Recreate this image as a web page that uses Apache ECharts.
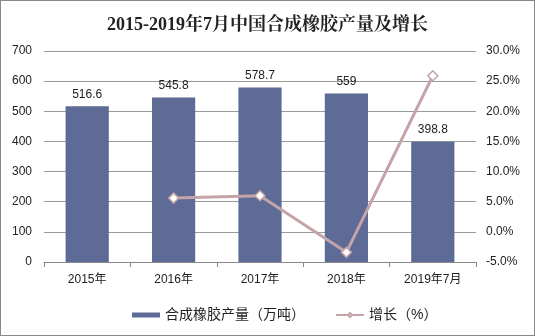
<!DOCTYPE html>
<html><head><meta charset="utf-8">
<script src="https://cdn.jsdelivr.net/npm/echarts@6/dist/echarts.min.js"></script>
<style>html,body{margin:0;padding:0;background:#fff}#c{width:535px;height:336px;box-sizing:border-box;border:1px solid #888}</style>
</head><body><div id="c"></div>
<script>
var categories = ['2015年','2016年','2017年','2018年','2019年7月'];
var production = [516.6, 545.8, 578.7, 559, 398.8];
var growth = [null, 5.6, 6.0, -3.4, 25.9];
var leftTicks = [0,100,200,300,400,500,600,700];
var rightTicks = [-5,0,5,10,15,20,25,30];

var chart = echarts.init(document.getElementById('c'));
var font = 'Arial, "Liberation Sans", "Noto Sans CJK SC", sans-serif';
chart.setOption({
  animation: false,
  title: {text: '2015-2019年7月中国合成橡胶产量及增长', left: 'center', top: 10,
    textStyle: {fontFamily: '"Liberation Serif", "Noto Serif CJK SC", "Noto Sans CJK SC", serif', fontWeight: 'bold', fontSize: 18, color: '#222'}},
  legend: {bottom: 8, left: 126, itemGap: 30, itemWidth: 28, itemHeight: 5,
    textStyle: {fontFamily: font, fontSize: 14, color: '#222'},
    data: [{name: '合成橡胶产量（万吨）', icon: 'rect'}, {name: '增长（%）'}]},
  grid: {left: 43, right: 58, top: 50, bottom: 73},
  xAxis: {type: 'category', data: categories,
    axisLine: {lineStyle: {color: '#888'}}, axisTick: {show: true, lineStyle: {color: '#888'}},
    axisLabel: {fontFamily: font, fontSize: 12, color: '#222', margin: 12}},
  yAxis: [
    {type: 'value', min: 0, max: 700, interval: 100,
      axisLine: {show: false}, axisTick: {show: false},
      splitLine: {lineStyle: {color: '#999'}},
      axisLabel: {fontFamily: font, fontSize: 12, color: '#222', margin: 12}},
    {type: 'value', min: -5, max: 30, interval: 5,
      axisLine: {show: false}, axisTick: {show: false}, splitLine: {show: false},
      axisLabel: {fontFamily: font, fontSize: 12, color: '#222', margin: 10, formatter: function(v){return v.toFixed(1)+'%';}}}
  ],
  series: [
    {name: '合成橡胶产量（万吨）', type: 'bar', data: production, barWidth: '50%',
      itemStyle: {color: '#5d6b96'},
      label: {show: true, position: 'top', fontFamily: font, fontSize: 12, color: '#222', distance: 6}},
    {name: '增长（%）', type: 'line', yAxisIndex: 1, data: growth,
      symbol: 'diamond', symbolSize: 10,
      lineStyle: {color: '#c4a4a8', width: 3},
      itemStyle: {color: '#ffffff', borderColor: '#c4a4a8', borderWidth: 1.5}}
  ]
});
</script></body></html>
